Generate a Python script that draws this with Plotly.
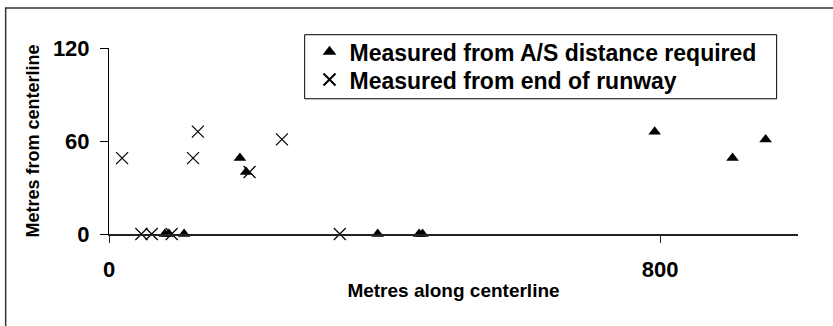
import plotly.graph_objects as go

# points (metres)
as_x = [81, 87, 109, 190, 199, 390, 450, 455, 792, 905, 953]
as_y = [0, 0, 0, 49, 40, 0, 0, 0, 66, 49, 61]
rw_x = [19, 47, 62, 91, 122, 129, 204, 251, 335]
rw_y = [49, 0, 0, 0, 49, 66, 40, 61, 0]

x_ticks = [0, 800]
y_ticks = [0, 60, 120]

FONT = "Liberation Sans, Arial, sans-serif"
leg_font = dict(family=FONT, size=23, color="black", weight="bold")

fig = go.Figure()
fig.add_trace(go.Scatter(
    x=as_x, y=as_y, mode="markers", name="Measured from A/S distance required",
    marker=dict(symbol="triangle-up", size=11, color="black"),
    cliponaxis=False, legend="legend", showlegend=True,
))
fig.add_trace(go.Scatter(
    x=rw_x, y=rw_y, mode="markers", name="Measured from end of runway",
    marker=dict(symbol="x-thin-open", size=12, color="black",
                line=dict(color="black", width=1.2)),
    cliponaxis=False, legend="legend2", showlegend=True,
))

fig.update_xaxes(
    range=[0, 1000], tickvals=x_ticks, showgrid=False, zeroline=False,
    showline=True, linecolor="#222", linewidth=1.5,
    ticks="outside", ticklen=7, tickcolor="#222", ticklabelstandoff=8,
    tickfont=dict(family=FONT, size=22, color="black", weight="bold"),
    title=dict(text="Metres along centerline", standoff=3,
               font=dict(family=FONT, size=19, color="black", weight="bold")),
)
fig.update_yaxes(
    range=[0, 120], tickvals=y_ticks, showgrid=False, zeroline=False,
    showline=True, linecolor="black", linewidth=1,
    ticks="outside", ticklen=8, tickcolor="black", ticklabelstandoff=6,
    tickfont=dict(family=FONT, size=22, color="black", weight="bold"),
    title=dict(text="Metres from centerline", standoff=8,
               font=dict(family=FONT, size=18, color="black", weight="bold")),
)

# outer chart border (only left/top edges fall inside the picture)
fig.add_shape(type="rect", xref="paper", yref="paper",
              x0=-0.150, x1=1.2, y0=-0.7, y1=1.215,
              line=dict(color="#333", width=1.5), layer="below")
# legend box
fig.add_shape(type="rect", xref="paper", yref="paper",
              x0=0.284, x1=0.969, y0=0.727, y1=1.0715,
              line=dict(color="black", width=1), fillcolor="white", layer="below")

leg_common = dict(xanchor="left", yanchor="middle", borderwidth=0,
                  bgcolor="rgba(0,0,0,0)", font=leg_font, itemsizing="constant")
fig.update_layout(
    width=833, height=326, autosize=False, showlegend=True,
    margin=dict(l=109, r=35, t=48, b=92),
    plot_bgcolor="white", paper_bgcolor="white",
    legend=dict(x=0.291, y=0.980, **leg_common),
    legend2=dict(x=0.291, y=0.830, **leg_common),
)

fig.write_html("out.html", config={"displayModeBar": False},
               post_script="document.body.style.margin='0';")
